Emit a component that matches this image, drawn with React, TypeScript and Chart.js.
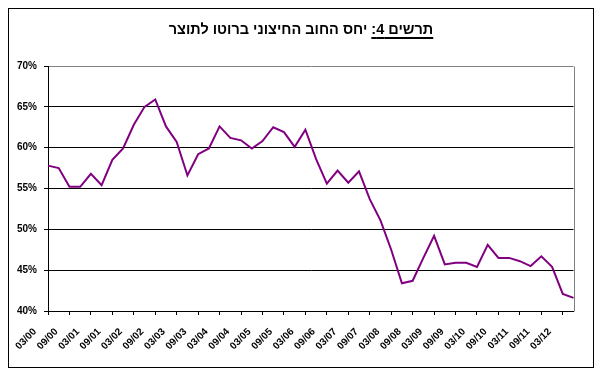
import React, { useEffect, useRef } from 'react';
import { Chart, registerables } from 'chart.js';

Chart.register(...registerables);

const quarters: string[] = [
  '03/00', '06/00', '09/00', '12/00',
  '03/01', '06/01', '09/01', '12/01',
  '03/02', '06/02', '09/02', '12/02',
  '03/03', '06/03', '09/03', '12/03',
  '03/04', '06/04', '09/04', '12/04',
  '03/05', '06/05', '09/05', '12/05',
  '03/06', '06/06', '09/06', '12/06',
  '03/07', '06/07', '09/07', '12/07',
  '03/08', '06/08', '09/08', '12/08',
  '03/09', '06/09', '09/09', '12/09',
  '03/10', '06/10', '09/10', '12/10',
  '03/11', '06/11', '09/11', '12/11',
  '03/12', '06/12',
];

// gross external debt as % of GDP
const debtToGdp: number[] = [
  57.8, 57.5, 55.2, 55.2,
  56.8, 55.4, 58.5, 59.9,
  62.8, 65.0, 65.9, 62.6,
  60.7, 56.6, 59.2, 59.9,
  62.6, 61.2, 60.9, 59.9,
  60.8, 62.5, 61.9, 60.1,
  62.2, 58.6, 55.6, 57.2,
  55.7, 57.1, 53.7, 51.1,
  47.5, 43.4, 43.7, 46.5,
  49.2, 45.7, 45.9, 45.9,
  45.4, 48.1, 46.5, 46.5,
  46.1, 45.5, 46.7, 45.4,
  42.1, 41.6,
];

const yMin = 40;
const yMax = 70;
const yStep = 5;

const titleLead = 'תרשים 4:';
const titleRest = ' יחס החוב החיצוני ברוטו לתוצר';

const FONT = '"Liberation Sans", Arial, sans-serif';

export default function App() {
  const ref = useRef<HTMLCanvasElement>(null);

  useEffect(() => {
    const canvas = ref.current;
    if (!canvas) return;

    const borderPlugin = {
      id: 'plotBorder',
      afterDatasetsDraw(chart: any) {
        const { ctx, chartArea } = chart;
        ctx.save();
        ctx.strokeStyle = '#808080';
        ctx.lineWidth = 1;
        ctx.beginPath();
        const x = Math.round(chartArea.right) + 0.5;
        ctx.moveTo(x, Math.round(chartArea.top) + 0.5);
        ctx.lineTo(x, Math.round(chartArea.bottom) + 0.5);
        ctx.stroke();
        ctx.restore();
      },
    };

    const chart = new Chart(canvas, {
      type: 'line',
      data: {
        labels: quarters,
        datasets: [
          {
            data: debtToGdp,
            borderColor: '#800080',
            backgroundColor: '#800080',
            borderWidth: 2,
            pointRadius: 0,
            fill: false,
            tension: 0,
          },
        ],
      },
      options: {
        responsive: false,
        maintainAspectRatio: false,
        animation: false,
        layout: { padding: { top: 57, right: 15, left: 0, bottom: 0 } },
        plugins: {
          legend: { display: false },
          tooltip: { enabled: false },
          title: { display: false },
        },
        scales: {
          x: {
            type: 'category',
            offset: false,
            grid: {
              drawOnChartArea: false,
              drawTicks: true,
              tickLength: 4,
              offset: false,
              tickColor: (c: any) => (c.index % 2 === 0 ? '#000' : 'rgba(0,0,0,0)'),
            },
            border: { display: true, color: '#000', width: 1 },
            ticks: {
              autoSkip: false,
              maxRotation: 45,
              minRotation: 45,
              padding: 11,
              labelOffset: -13,
              color: '#000',
              font: { family: FONT, size: 10, weight: 'bold' },
              callback: function (this: any, v: any, i: number) {
                return i % 2 === 0 ? this.getLabelForValue(v) : '';
              },
            },
            afterFit: (s: any) => {
              s.height = 56;
            },
          },
          y: {
            min: yMin,
            max: yMax,
            ticks: {
              stepSize: yStep,
              padding: 7,
              color: '#000',
              font: { family: FONT, size: 10, weight: 'bold' },
              callback: (v: any) => v + '%',
            },
            grid: {
              color: (c: any) => (c.tick && c.tick.value === yMax ? '#808080' : '#000'),
              tickColor: '#000',
              tickLength: 4,
              lineWidth: 1,
            },
            border: { display: true, color: '#000', width: 1 },
            afterFit: (s: any) => {
              s.width = 39;
            },
          },
        },
      },
      plugins: [borderPlugin],
    } as any);

    return () => chart.destroy();
  }, []);

  return (
    <div
      style={{
        position: 'relative',
        width: 586,
        height: 360,
        border: '1px solid #000',
        boxSizing: 'border-box',
        background: '#fff',
      }}
    >
      <div
        dir="rtl"
        style={{
          position: 'absolute',
          top: 12,
          left: 0,
          width: '100%',
          textAlign: 'center',
          fontFamily: FONT,
          fontSize: 14.5,
          fontWeight: 'bold',
          lineHeight: '17px',
          color: '#000',
          zIndex: 2,
        }}
      >
        <span style={{ textDecoration: 'underline', textDecorationThickness: '2px', textUnderlineOffset: '3px' }}>
          {titleLead}
        </span>
        {titleRest}
      </div>
      <canvas
        ref={ref}
        width={584}
        height={358}
        style={{ position: 'absolute', top: 0, left: 0 }}
      />
    </div>
  );
}
